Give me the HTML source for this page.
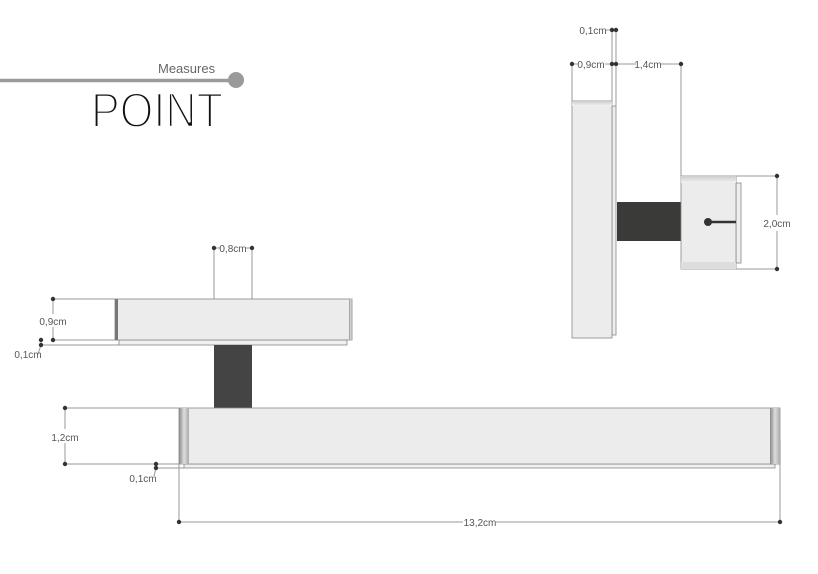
<!DOCTYPE html>
<html><head><meta charset="utf-8"><style>
html,body{margin:0;padding:0;background:#fff;}
svg{display:block;}
text{font-family:"Liberation Sans","DejaVu Sans",sans-serif;fill:#555;}
</style></head><body>
<svg width="818" height="574" viewBox="0 0 818 574" xmlns="http://www.w3.org/2000/svg">
<defs>
<linearGradient id="edge" x1="0" x2="1" y1="0" y2="0"><stop offset="0" stop-color="#888"/><stop offset="0.5" stop-color="#ddd"/><stop offset="1" stop-color="#aaa"/></linearGradient>
<linearGradient id="topg" x1="0" x2="0" y1="0" y2="1"><stop offset="0" stop-color="#ccc"/><stop offset="1" stop-color="#f2f2f2"/></linearGradient>
</defs>
<rect width="818" height="574" fill="#fff"/>
<line x1="0" y1="80.5" x2="236" y2="80.5" stroke="#9a9a9a" stroke-width="3.5"/>
<circle cx="236" cy="80" r="8" fill="#9a9a9a"/>
<text x="158" y="73" font-size="13" style="fill:#666">Measures</text>
<text x="91" y="127" font-size="49" style="fill:#111" textLength="132" lengthAdjust="spacingAndGlyphs" stroke="#fff" stroke-width="2.4">POINT</text>

<g stroke="#999" stroke-width="1" fill="none">
<line x1="214" y1="248" x2="214" y2="299"/><line x1="252" y1="248" x2="252" y2="299"/>
<line x1="214" y1="248" x2="220" y2="248"/><line x1="246" y1="248" x2="252" y2="248"/>
<line x1="53" y1="299" x2="115" y2="299"/><line x1="53" y1="340" x2="119" y2="340"/><line x1="41" y1="345" x2="119" y2="345"/>
<line x1="53" y1="299" x2="53" y2="314"/><line x1="53" y1="327" x2="53" y2="340"/>
<line x1="41" y1="345" x2="38" y2="354"/>
<line x1="65" y1="408" x2="179" y2="408"/><line x1="65" y1="464" x2="179" y2="464"/><line x1="156" y1="468" x2="184" y2="468"/>
<line x1="65" y1="408" x2="65" y2="429"/><line x1="65" y1="443" x2="65" y2="464"/>
<line x1="156" y1="468" x2="154" y2="476"/>
<line x1="179" y1="464" x2="179" y2="522"/><line x1="780" y1="440" x2="780" y2="522"/>
<line x1="179" y1="522" x2="463" y2="522"/><line x1="496" y1="522" x2="780" y2="522"/>
<line x1="612" y1="30" x2="612" y2="101"/><line x1="616" y1="30" x2="616" y2="106"/>
<line x1="606" y1="30" x2="616" y2="30"/>
<line x1="572" y1="64" x2="572" y2="101"/><line x1="681" y1="64" x2="681" y2="176"/>
<line x1="572" y1="64" x2="578" y2="64"/><line x1="605" y1="64" x2="616" y2="64"/><line x1="616" y1="64" x2="636" y2="64"/><line x1="661" y1="64" x2="681" y2="64"/>
<line x1="736" y1="176" x2="777" y2="176"/><line x1="736" y1="269" x2="777" y2="269"/>
<line x1="777" y1="176" x2="777" y2="215"/><line x1="777" y1="231" x2="777" y2="269"/>
</g>
<g fill="#333">
<circle cx="214" cy="248" r="2.2"/><circle cx="252" cy="248" r="2.2"/>
<circle cx="53" cy="299" r="2.2"/><circle cx="53" cy="340" r="2.2"/>
<circle cx="41" cy="340" r="2.2"/><circle cx="41" cy="345" r="2.2"/>
<circle cx="65" cy="408" r="2.2"/><circle cx="65" cy="464" r="2.2"/>
<circle cx="156" cy="464" r="2.2"/><circle cx="156" cy="468" r="2.2"/>
<circle cx="179" cy="522" r="2.2"/><circle cx="780" cy="522" r="2.2"/>
<circle cx="612" cy="30" r="2.2"/><circle cx="616" cy="30" r="2.2"/>
<circle cx="572" cy="64" r="2.2"/><circle cx="612" cy="64" r="2.2"/><circle cx="616" cy="64" r="2.2"/><circle cx="681" cy="64" r="2.2"/>
<circle cx="777" cy="176" r="2.2"/><circle cx="777" cy="269" r="2.2"/>
</g>
<g font-size="10">
<text x="233" y="252" text-anchor="middle">0,8cm</text>
<text x="53" y="325" text-anchor="middle">0,9cm</text>
<text x="28" y="358" text-anchor="middle">0,1cm</text>
<text x="65" y="441" text-anchor="middle">1,2cm</text>
<text x="143" y="482" text-anchor="middle">0,1cm</text>
<text x="480" y="526" text-anchor="middle">13,2cm</text>
<text x="593" y="34" text-anchor="middle">0,1cm</text>
<text x="591" y="68" text-anchor="middle">0,9cm</text>
<text x="648" y="68" text-anchor="middle">1,4cm</text>
<text x="777" y="227" text-anchor="middle">2,0cm</text>
</g>
<rect x="119" y="340" width="228" height="5" fill="#f0f0f0" stroke="#888" stroke-width="0.8"/>
<rect x="115" y="299" width="237" height="41" fill="#ececec" stroke="#888" stroke-width="0.8"/>
<rect x="115" y="299" width="3" height="41" fill="#777"/>
<rect x="349" y="299" width="3" height="41" fill="url(#edge)"/>
<rect x="214" y="345" width="38" height="63" fill="#444"/>
<rect x="184" y="464" width="591" height="4" fill="#f0f0f0" stroke="#888" stroke-width="0.8"/>
<rect x="179" y="408" width="601" height="56" fill="#ececec" stroke="#888" stroke-width="0.8"/>
<rect x="179" y="408" width="10" height="56" fill="url(#edge)"/>
<rect x="770" y="408" width="10" height="56" fill="url(#edge)"/>
<rect x="612" y="106" width="4" height="229" fill="#eee" stroke="#888" stroke-width="0.8"/>
<rect x="572" y="101" width="40" height="237" fill="#ececec" stroke="#888" stroke-width="0.8"/>
<rect x="572" y="101" width="40" height="5" fill="url(#topg)"/>
<rect x="617" y="202" width="64" height="39" fill="#3a3b38"/>
<rect x="736" y="183" width="5" height="80" fill="#eee" stroke="#888" stroke-width="0.8"/>
<rect x="681" y="176" width="55" height="93" fill="#ececec" stroke="#888" stroke-width="0.8"/>
<rect x="681" y="176" width="55" height="7" fill="url(#topg)"/>
<rect x="681" y="262" width="55" height="7" fill="#ddd"/>
<line x1="708" y1="222" x2="736" y2="222" stroke="#333" stroke-width="2.5"/>
<circle cx="708" cy="222" r="4" fill="#333"/>
</svg>
</body></html>
